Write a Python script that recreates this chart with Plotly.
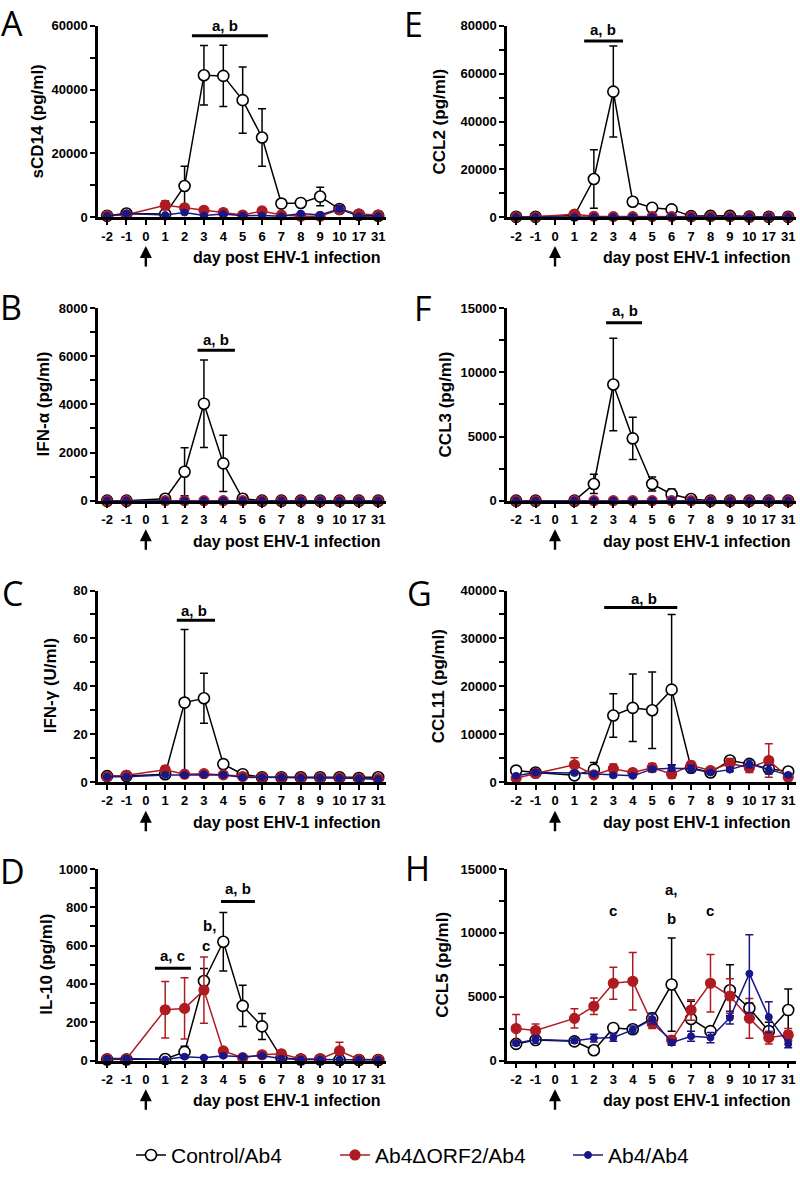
import plotly.graph_objects as go

categories = ["-2", "-1", "0", "1", "2", "3", "4", "5", "6", "7", "8", "9", "10", "17", "31"]
series_names = ["Control/Ab4", "Ab4ΔORF2/Ab4", "Ab4/Ab4"]

# ---- A: sCD14 ----
sCD14_ctrl = [500, 1200, None, 1000, 9800, 44500, 44300, 36700, 25000, 4300, 4500, 6500, 2600, 800, 500]
sCD14_ctrl_err = [200, 300, None, 300, 6200, 9300, 9600, 10400, 9000, 900, 900, 2900, 1000, 300, 200]
sCD14_red = [500, 800, None, 3800, 3000, 2200, 1500, 700, 2000, 700, 300, 300, 2400, 1000, 700]
sCD14_red_err = [200, 300, None, 1400, 500, 400, 300, 200, 400, 200, 100, 100, 800, 300, 200]
sCD14_blue = [400, 1200, None, 700, 1500, 600, 1000, 500, 600, 300, 1200, 700, 2700, 300, 400]
sCD14_blue_err = [100, 300, None, 200, 400, 200, 300, 100, 200, 100, 300, 200, 900, 100, 100]

# ---- E: CCL2 ----
CCL2_ctrl = [200, 200, None, 800, 16000, 52500, 6500, 4000, 3300, 500, 600, 600, 300, 200, 200]
CCL2_ctrl_err = [0, 0, None, 200, 12200, 19000, 1300, 600, 500, 200, 200, 200, 100, 0, 0]
CCL2_red = [200, 200, None, 1300, 400, 300, 300, 300, 300, 300, 300, 300, 300, 200, 200]
CCL2_red_err = [0, 0, None, 300, 100, 0, 0, 0, 0, 0, 0, 0, 0, 0, 0]
CCL2_blue = [100, 100, None, 100, 100, 100, 100, 100, 100, 100, 100, 100, 100, 100, 100]
CCL2_blue_err = [0, 0, None, 0, 0, 0, 0, 0, 0, 0, 0, 0, 0, 0, 0]

# ---- B: IFN-alpha ----
IFNa_ctrl = [0, 0, None, 80, 1200, 4030, 1550, 80, 0, 0, 0, 0, 0, 0, 0]
IFNa_ctrl_err = [0, 0, None, 30, 1000, 1820, 1170, 30, 0, 0, 0, 0, 0, 0, 0]
IFNa_red = [0, 0, None, 0, 0, 0, 0, 0, 0, 0, 0, 0, 0, 0, 0]
IFNa_red_err = [0, 0, None, 0, 0, 0, 0, 0, 0, 0, 0, 0, 0, 0, 0]
IFNa_blue = [0, 0, None, 0, 0, 0, 0, 0, 0, 0, 0, 0, 0, 0, 0]
IFNa_blue_err = [0, 0, None, 0, 0, 0, 0, 0, 0, 0, 0, 0, 0, 0, 0]

# ---- F: CCL3 ----
CCL3_ctrl = [0, 0, None, 0, 1300, 9050, 4850, 1300, 500, 130, 0, 0, 0, 0, 0]
CCL3_ctrl_err = [0, 0, None, 0, 750, 3600, 1650, 550, 400, 100, 0, 0, 0, 0, 0]
CCL3_red = [0, 0, None, 0, 0, 0, 0, 0, 0, 0, 0, 0, 0, 0, 0]
CCL3_red_err = [0, 0, None, 0, 0, 0, 0, 0, 0, 0, 0, 0, 0, 0, 0]
CCL3_blue = [0, 0, None, 0, 0, 0, 0, 0, 0, 0, 0, 0, 0, 0, 0]
CCL3_blue_err = [0, 0, None, 0, 0, 0, 0, 0, 0, 0, 0, 0, 0, 0, 0]

# ---- C: IFN-gamma ----
IFNg_ctrl = [2.5, 2.5, None, 3.3, 33.2, 35, 7.5, 3.3, 2, 2, 2, 2, 2, 1.7, 2]
IFNg_ctrl_err = [0.5, 0.5, None, 0.5, 30.5, 10.4, 1.8, 0.5, 0.3, 0.3, 0.3, 0.3, 0.3, 0.3, 0.3]
IFNg_red = [2.2, 2.8, None, 5.1, 3.3, 3.5, 3.0, 2.3, 2.0, 2.0, 1.8, 1.8, 1.8, 1.5, 1.4]
IFNg_red_err = [0.3, 0.3, None, 1.5, 0.5, 0.5, 0.4, 0.3, 0.3, 0.3, 0.3, 0.3, 0.3, 0.3, 0.3]
IFNg_blue = [2.2, 2.2, None, 3.0, 3.0, 3.2, 3.0, 2.0, 2.0, 2.0, 1.8, 1.8, 1.7, 1.5, 1.2]
IFNg_blue_err = [0.2, 0.2, None, 0.3, 0.3, 0.3, 0.3, 0.2, 0.2, 0.2, 0.2, 0.2, 0.2, 0.2, 0.2]

# ---- G: CCL11 ----
CCL11_ctrl = [2400, 2000, None, 1400, 2600, 13900, 15500, 15000, 19300, 3000, 2000, 4500, 3800, 2800, 2200]
CCL11_ctrl_err = [700, 500, None, 300, 1500, 4550, 7050, 8000, 15700, 1000, 400, 800, 600, 600, 400]
CCL11_red = [800, 1800, None, 3600, 1500, 2800, 2000, 3000, 1700, 3500, 2400, 3900, 3000, 4500, 1000]
CCL11_red_err = [300, 400, None, 1500, 400, 1000, 400, 900, 900, 800, 400, 1000, 1000, 3500, 300]
CCL11_blue = [1300, 2000, None, 1900, 1700, 1400, 1300, 2700, 2900, 2800, 2000, 2600, 3800, 2600, 1500]
CCL11_blue_err = [300, 400, None, 300, 300, 300, 300, 400, 600, 700, 300, 400, 800, 900, 300]

# ---- D: IL-10 ----
IL10_ctrl = [5, 5, None, 8, 45, 415, 620, 285, 178, 15, 5, 5, 3, 3, 3]
IL10_ctrl_err = [2, 2, None, 3, 30, 65, 153, 108, 68, 5, 2, 2, 1, 1, 1]
IL10_red = [10, 8, None, 265, 272, 368, 50, 15, 30, 35, 8, 8, 50, 5, 5]
IL10_red_err = [3, 3, None, 148, 160, 173, 10, 5, 8, 10, 3, 3, 45, 2, 2]
IL10_blue = [10, 10, None, 5, 20, 15, 25, 20, 25, 10, 5, 5, 5, 3, 3]
IL10_blue_err = [3, 3, None, 2, 8, 5, 8, 5, 5, 3, 2, 2, 2, 1, 1]

# ---- H: CCL5 ----
CCL5_ctrl = [1300, 1600, None, 1500, 800, 2550, 2450, 3300, 5950, 3250, 2300, 5500, 4100, 2300, 3950]
CCL5_ctrl_err = [150, 200, None, 150, 150, 150, 300, 400, 3650, 1400, 300, 2000, 400, 700, 1650]
CCL5_red = [2500, 2350, None, 3300, 4250, 6050, 6200, 2900, 1600, 3950, 6050, 5050, 3300, 1800, 2000]
CCL5_red_err = [1100, 500, None, 750, 650, 1250, 2250, 400, 300, 800, 2250, 1350, 1550, 500, 500]
CCL5_blue = [1350, 1650, None, 1550, 1750, 1800, 2400, 3250, 1400, 1900, 1800, 3350, 6800, 3400, 1300]
CCL5_blue_err = [150, 300, None, 150, 300, 300, 300, 400, 200, 400, 400, 500, 3050, 1200, 300]

W, H = 800, 1186
BLACK = "#000000"
RED = "#AE1C22"
BLUE = "#17178A"
FONT = "Liberation Sans, Arial, Helvetica, sans-serif"

rows_px = [(19, 213), (305, 500), (591, 785), (873, 1067)]
cols_px = [(98, 386), (507, 796)]

panels = [
    dict(letter="A", r=0, c=0, title="sCD14 (pg/ml)", ymax=60000, dt=20000,
         data=(sCD14_ctrl, sCD14_ctrl_err, sCD14_red, sCD14_red_err, sCD14_blue, sCD14_blue_err),
         tx=38, lxy=(12, 16),
         lines=[(4.38, 8.3, 56900)], texts=[("a, b", 6.1, 60200)]),
    dict(letter="E", r=0, c=1, title="CCL2 (pg/ml)", ymax=80000, dt=20000,
         data=(CCL2_ctrl, CCL2_ctrl_err, CCL2_red, CCL2_red_err, CCL2_blue, CCL2_blue_err),
         tx=440, lxy=(413, 17),
         lines=[(3.5, 5.5, 73600)], texts=[("a, b", 4.48, 78400)]),
    dict(letter="B", r=1, c=0, title="IFN-α (pg/ml)", ymax=8000, dt=2000,
         data=(IFNa_ctrl, IFNa_ctrl_err, IFNa_red, IFNa_red_err, IFNa_blue, IFNa_blue_err),
         tx=43, lxy=(11, 304),
         lines=[(4.67, 6.6, 6250)], texts=[("a, b", 5.6, 6700)]),
    dict(letter="F", r=1, c=1, title="CCL3 (pg/ml)", ymax=15000, dt=5000,
         data=(CCL3_ctrl, CCL3_ctrl_err, CCL3_red, CCL3_red_err, CCL3_blue, CCL3_blue_err),
         tx=445, lxy=(423, 305),
         lines=[(4.63, 6.48, 13860)], texts=[("a, b", 5.6, 14800)]),
    dict(letter="C", r=2, c=0, title="IFN-γ (U/ml)", ymax=80, dt=20,
         data=(IFNg_ctrl, IFNg_ctrl_err, IFNg_red, IFNg_red_err, IFNg_blue, IFNg_blue_err),
         tx=50, lxy=(12, 593),
         lines=[(3.6, 5.57, 67.6)], texts=[("a, b", 4.5, 71.8)]),
    dict(letter="G", r=2, c=1, title="CCL11 (pg/ml)", ymax=40000, dt=10000,
         data=(CCL11_ctrl, CCL11_ctrl_err, CCL11_red, CCL11_red_err, CCL11_blue, CCL11_blue_err),
         tx=438, lxy=(419, 593),
         lines=[(4.53, 8.29, 36460)], texts=[("a, b", 6.6, 38400)]),
    dict(letter="D", r=3, c=0, title="IL-10 (pg/ml)", ymax=1000, dt=200,
         data=(IL10_ctrl, IL10_ctrl_err, IL10_red, IL10_red_err, IL10_blue, IL10_blue_err),
         tx=47, lxy=(12, 875),
         lines=[(2.47, 4.33, 481), (5.88, 7.63, 830)],
         texts=[("a, c", 3.4, 550), ("a, b", 6.75, 898), ("b,", 5.3, 704), ("c", 5.1, 601)]),
    dict(letter="H", r=3, c=1, title="CCL5 (pg/ml)", ymax=15000, dt=5000,
         data=(CCL5_ctrl, CCL5_ctrl_err, CCL5_red, CCL5_red_err, CCL5_blue, CCL5_blue_err),
         tx=443, lxy=(417, 872),
         lines=[], texts=[("c", 5.0, 11740), ("a,", 8.0, 13400), ("b", 8.0, 11150), ("c", 10.0, 11740)]),
]

xpos = list(range(len(categories)))

fig = go.Figure()
layout = dict(width=W, height=H, margin=dict(l=0, r=0, t=0, b=0),
              paper_bgcolor="white", plot_bgcolor="white",
              font=dict(family=FONT, color="black"), annotations=[], shapes=[])

styles = [
    dict(color=BLACK, fill="white", size=11, lw=1.6),
    dict(color=RED, fill=RED, size=10, lw=1.2),
    dict(color=BLUE, fill=BLUE, size=7, lw=1.0),
]
legend_ids = ["legend", "legend2", "legend3"]
legend_text_x = [173, 377, 610]

for i, p in enumerate(panels):
    k = i + 1
    xa = "x" if k == 1 else f"x{k}"
    ya = "y" if k == 1 else f"y{k}"
    top, bot = rows_px[p["r"]]
    left, right = cols_px[p["c"]]
    layout[f"xaxis{'' if k == 1 else k}"] = dict(
        domain=[left / W, right / W], anchor=ya, range=[-0.47, 14.4],
        tickmode="array", tickvals=xpos, ticktext=categories,
        showline=True, linecolor="black", linewidth=2.5, ticks="outside",
        ticklen=5, tickwidth=2, tickcolor="black", showgrid=False, zeroline=False,
        tickfont=dict(family=FONT, size=13, color="black", weight="bold"), fixedrange=True)
    layout[f"yaxis{'' if k == 1 else k}"] = dict(
        domain=[1 - bot / H, 1 - top / H], anchor=xa, range=[0, p["ymax"]],
        tick0=0, dtick=p["dt"], tickformat="d",
        showline=True, linecolor="black", linewidth=2.5, ticks="outside",
        ticklen=5, tickwidth=2, tickcolor="black", showgrid=False, zeroline=False,
        minor=dict(dtick=p["dt"] / 2, tick0=0, ticks="outside", ticklen=5, tickwidth=2,
                   tickcolor="black", showgrid=False),
        tickfont=dict(family=FONT, size=13, color="black", weight="bold"), fixedrange=True)

    d = p["data"]
    for s in range(3):
        st = styles[s]
        fig.add_trace(go.Scatter(
            x=xpos, y=d[2 * s], xaxis=xa, yaxis=ya, mode="lines+markers",
            name=series_names[s], showlegend=(i == 0), legend=legend_ids[s],
            connectgaps=True, cliponaxis=False,
            line=dict(color=st["color"], width=1.5),
            marker=dict(symbol="circle", size=st["size"], color=st["fill"],
                        line=dict(color=st["color"], width=st["lw"])),
            error_y=dict(type="data", array=d[2 * s + 1], visible=True,
                         color=st["color"], thickness=1.5, width=4),
        ))

    ymax = p["ymax"]
    for (x0, x1, yv) in p["lines"]:
        layout["shapes"].append(dict(type="line", xref=xa, yref=f"{ya} domain", x0=x0, x1=x1,
                                     y0=yv / ymax, y1=yv / ymax,
                                     line=dict(color="black", width=3)))
    for (t, xv, yv) in p["texts"]:
        layout["annotations"].append(dict(text=t, xref=xa, yref=f"{ya} domain", x=xv, y=yv / ymax,
                                          showarrow=False, xanchor="center", yanchor="middle",
                                          font=dict(family=FONT, size=15, color="black", weight="bold")))
    layout["annotations"].append(dict(text=p["title"], xref="paper", yref="paper",
                                      x=p["tx"] / W, y=1 - (top + bot) / 2 / H, textangle=-90,
                                      showarrow=False, xanchor="center", yanchor="middle",
                                      font=dict(family=FONT, size=17, color="black", weight="bold")))
    layout["annotations"].append(dict(text="day post EHV-1 infection", xref="paper", yref="paper",
                                      x=(right - 3) / W, y=1 - (bot + 41) / H, showarrow=False,
                                      xanchor="right", yanchor="middle",
                                      font=dict(family=FONT, size=16, color="black", weight="bold")))
    layout["annotations"].append(dict(text="", xref=xa, yref="paper", x=2, y=1 - (bot + 29) / H,
                                      showarrow=True, ax=0, ay=22, axref="pixel", ayref="pixel",
                                      arrowhead=2, arrowsize=1.0, arrowwidth=2.4, arrowcolor="black",
                                      standoff=0, startstandoff=0))
    lx, ly = p["lxy"]
    layout["annotations"].append(dict(text=p["letter"], xref="paper", yref="paper",
                                      x=lx / W, y=1 - ly / H, showarrow=False,
                                      xanchor="center", yanchor="middle",
                                      font=dict(family="Open Sans, Liberation Sans, sans-serif", size=34,
                                                color="black")))

for lid, tx in zip(legend_ids, legend_text_x):
    layout[lid] = dict(orientation="h", x=(tx - 42) / W, xanchor="left", y=1 - 1163 / H, yanchor="middle",
                       font=dict(family=FONT, size=21, color="black"), bgcolor="rgba(0,0,0,0)",
                       borderwidth=0)

fig.update_layout(**layout)
fig.write_html("out.html", config={"displayModeBar": False},
               post_script="document.body.style.margin='0';")
